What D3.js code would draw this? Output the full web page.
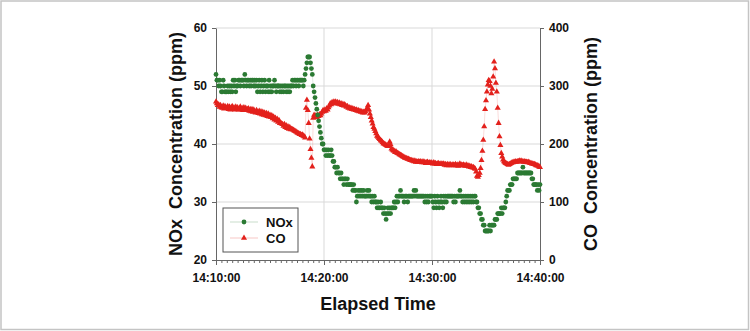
<!DOCTYPE html>
<html>
<head>
<meta charset="utf-8">
<script src="https://cdn.jsdelivr.net/npm/d3@7"></script>
<style>
  body { margin: 0; background: #fff; }
  svg text { font-family: Arial, "Liberation Sans", sans-serif; font-weight: bold; fill: #111; }
</style>
</head>
<body>
<div class="visualization"></div>
<script>
/*
NOx and CO readings, one sample every 5 seconds from 14:10:00
*/
var startTime = new Date(2000, 0, 1, 14, 10, 0);
var endTime = new Date(2000, 0, 1, 14, 40, 0);
var sampleSeconds = 5;

var seriesNames = ["NOx", "CO"];
var noxTicks = [20, 30, 40, 50, 60];
var coTicks = [0, 100, 200, 300, 400];

// NOx (ppm), one row per minute
var noxValues = [
  52,51,51,50,51,50,49,49,51,50,49,49,
  49,50,49,50,49,50,49,51,50,51,49,50,
  50,51,51,50,51,51,51,50,52,51,50,51,
  51,50,51,50,51,51,50,51,50,51,49,50,
  51,49,50,51,49,50,51,49,50,50,49,51,
  49,50,49,50,50,51,50,49,50,50,50,49,
  50,49,50,49,50,50,49,50,49,50,49,50,
  50,51,50,51,51,50,51,51,50,51,51,51,
  51,50,51,52,53,54,55,55,55,54,53,52,
  50,49,48,47,46,45,44,43,42,41,40,40,
  39,39,38,39,38,39,38,38,39,38,37,37,
  36,36,35,36,35,35,34,35,34,34,33,34,
  34,33,34,33,33,33,33,33,32,33,32,32,
  30,31,32,31,32,31,32,31,32,31,31,31,
  32,31,32,31,31,30,31,30,31,30,30,29,
  30,29,29,30,29,29,28,29,28,27,28,29,
  28,29,28,29,29,29,30,29,30,31,30,31,
  31,32,31,31,31,30,31,31,31,30,31,31,
  31,31,31,31,32,31,32,31,31,31,31,31,
  31,31,31,31,30,31,30,31,30,31,31,31,
  31,30,29,31,30,29,31,30,29,30,31,30,
  29,31,30,31,30,31,31,31,31,31,31,31,
  30,31,30,31,31,31,31,32,31,31,30,31,
  30,31,30,31,30,31,30,31,30,31,30,31,
  31,30,30,29,29,28,28,27,27,26,26,25,
  25,25,25,25,26,25,26,26,26,26,27,27,
  27,28,28,28,28,29,28,29,29,29,30,31,
  32,32,32,33,33,33,34,34,34,34,34,35,
  35,35,35,35,35,36,35,35,35,35,35,35,
  35,35,35,34,34,33,33,33,33,32,33,32,
  33
];

// CO (ppm), one row per minute
var coValues = [
  273,270,267,268,264,267,263,262,266,261,265,262,
  262,265,260,264,259,263,265,260,263,259,264,260,
  263,259,261,264,259,262,258,263,259,262,258,260,
  261,257,260,256,260,255,259,256,254,258,255,253,
  257,252,256,251,255,250,254,249,253,248,252,247,
  250,246,249,244,247,242,245,240,243,238,241,236,
  236,235,234,231,234,229,232,227,230,226,229,225,
  226,225,224,223,222,221,220,219,218,217,217,215,
  216,214,213,211,262,276,258,236,209,191,176,161,
  245,250,247,249,246,250,248,251,249,252,255,258,
  256,259,257,261,259,263,266,270,268,272,270,273,
  271,273,270,272,269,271,268,270,267,269,266,268,
  266,264,265,262,263,261,262,260,261,259,260,258,
  259,257,258,256,257,255,256,254,255,254,256,259,
  262,267,259,252,246,240,235,229,226,222,218,214,
  212,210,208,206,205,203,201,200,199,198,197,196,
  197,204,199,192,190,189,188,186,187,185,184,183,
  182,181,180,179,178,177,176,176,175,174,174,173,
  172,172,171,171,170,171,169,170,169,170,169,170,
  169,168,170,168,169,167,168,169,167,168,167,168,
  167,166,168,166,167,165,166,167,165,166,165,166,
  165,166,164,165,163,165,164,163,165,164,163,164,
  164,163,165,163,164,162,164,166,163,164,163,164,
  163,162,164,162,163,161,162,160,161,159,160,158,
  157,152,145,143,146,150,158,172,188,207,230,260,
  275,290,302,310,308,300,287,295,316,342,330,305,
  290,262,236,213,198,184,178,173,170,168,167,166,
  165,164,165,166,167,168,168,169,169,170,169,170,
  170,171,170,171,170,170,169,170,169,169,168,169,
  168,167,167,166,166,165,165,164,163,163,162,161,
  160
];

var width = 750;
var height = 331;
var plot = {left: 216, right: 540, top: 28, bottom: 260};
var noxColor = "#2b7a33";
var coColor = "#e3211c";

function drawViz(){
    var svg = d3.select(".visualization").append("svg")
        .attr("width", width)
        .attr("height", height);

    //outer frame
    svg.append("rect")
        .attr("x", 1).attr("y", 1)
        .attr("width", width - 2.5).attr("height", height - 2.5)
        .attr("fill", "#fff")
        .attr("stroke", "#c4c4c4")
        .attr("stroke-width", 1.5);

    var data = noxValues.map(function(v, i){
        return {
            time: new Date(startTime.getTime() + i * sampleSeconds * 1000),
            nox: v,
            co: coValues[i]
        };
    });

    var xScale = d3.scaleTime().domain([startTime, endTime]).range([plot.left, plot.right]);
    var yLeft = d3.scaleLinear().domain([20, 60]).range([plot.bottom, plot.top]);
    var yRight = d3.scaleLinear().domain([0, 400]).range([plot.bottom, plot.top]);

    // grid lines
    var grid = svg.append("g").attr("stroke", "#d9d9d9").attr("stroke-width", 1);
    noxTicks.slice(1).forEach(function(t){
        grid.append("line")
            .attr("x1", plot.left).attr("x2", plot.right)
            .attr("y1", yLeft(t)).attr("y2", yLeft(t));
    });
    xScale.ticks(d3.timeMinute.every(10)).forEach(function(t, i, arr){
        if(i == 0 || i == arr.length - 1) return;
        grid.append("line")
            .attr("x1", xScale(t)).attr("x2", xScale(t))
            .attr("y1", plot.top).attr("y2", plot.bottom);
    });

    // minor ticks every 30 seconds
    var minorAxis = svg.append("g")
        .attr("transform", "translate(0," + plot.bottom + ")")
        .call(d3.axisBottom(xScale).ticks(d3.timeSecond.every(30)).tickSize(3).tickFormat(""));
    minorAxis.select(".domain").remove();
    minorAxis.selectAll("line").attr("stroke", "#666");

    // axes
    var xAxis = svg.append("g")
        .attr("transform", "translate(0," + plot.bottom + ")")
        .call(d3.axisBottom(xScale)
            .ticks(d3.timeMinute.every(10))
            .tickFormat(d3.timeFormat("%H:%M:%S"))
            .tickSizeInner(5).tickSizeOuter(0).tickPadding(8));
    var leftAxis = svg.append("g")
        .attr("transform", "translate(" + plot.left + ",0)")
        .call(d3.axisLeft(yLeft).tickValues(noxTicks).tickSizeInner(4).tickSizeOuter(0).tickPadding(5));
    var rightAxis = svg.append("g")
        .attr("transform", "translate(" + plot.right + ",0)")
        .call(d3.axisRight(yRight).tickValues(coTicks).tickSizeInner(4).tickSizeOuter(0).tickPadding(5));
    [xAxis, leftAxis, rightAxis].forEach(function(a){
        a.selectAll(".domain, line").attr("stroke", "#666");
        a.selectAll("text")
            .attr("fill", "#111")
            .style("font-size", "12px")
            .style("font-family", "Arial, 'Liberation Sans', sans-serif")
            .style("font-weight", "bold");
    });

    // faint connecting lines
    var noxLine = d3.line().x(function(d){return xScale(d.time);}).y(function(d){return yLeft(d.nox);});
    var coLine = d3.line().x(function(d){return xScale(d.time);}).y(function(d){return yRight(d.co);});
    svg.append("path").datum(data).attr("d", coLine)
        .attr("fill", "none").attr("stroke", coColor).attr("stroke-opacity", 0.2).attr("stroke-width", 0.8);
    svg.append("path").datum(data).attr("d", noxLine)
        .attr("fill", "none").attr("stroke", noxColor).attr("stroke-opacity", 0.2).attr("stroke-width", 0.8);

    // CO triangles
    var tri = d3.symbol().type(d3.symbolTriangle).size(16);
    svg.append("g").selectAll("path")
        .data(data)
        .enter().append("path")
        .attr("d", tri)
        .attr("transform", function(d){return "translate(" + xScale(d.time) + "," + yRight(d.co) + ")";})
        .attr("fill", coColor);

    // NOx dots
    svg.append("g").selectAll("circle")
        .data(data)
        .enter().append("circle")
        .attr("cx", function(d){return xScale(d.time);})
        .attr("cy", function(d){return yLeft(d.nox);})
        .attr("r", 2.4)
        .attr("fill", noxColor);

    // axis titles
    svg.append("text")
        .attr("transform", "translate(182," + (plot.top + plot.bottom) / 2 + ") rotate(-90)")
        .attr("text-anchor", "middle")
        .style("font-size", "18px")
        .text("NOx\u00a0\u00a0Concentration (ppm)");
    svg.append("text")
        .attr("transform", "translate(597," + (plot.top + plot.bottom) / 2 + ") rotate(-90)")
        .attr("text-anchor", "middle")
        .style("font-size", "18px")
        .text("CO\u00a0\u00a0Concentration (ppm)");
    svg.append("text")
        .attr("x", (plot.left + plot.right) / 2)
        .attr("y", 310)
        .attr("text-anchor", "middle")
        .style("font-size", "18px")
        .text("Elapsed Time");

    // legend
    var legend = svg.append("g").attr("transform", "translate(223,208)");
    legend.append("rect")
        .attr("width", 75).attr("height", 44)
        .attr("fill", "#fff").attr("stroke", "#555").attr("stroke-width", 1);
    var colors = [noxColor, coColor];
    seriesNames.forEach(function(name, i){
        var y = 14 + i * 16;
        legend.append("line")
            .attr("x1", 7).attr("x2", 35).attr("y1", y).attr("y2", y)
            .attr("stroke", colors[i]).attr("stroke-opacity", 0.25).attr("stroke-width", 1);
        if(i == 0){
            legend.append("circle").attr("cx", 21).attr("cy", y).attr("r", 2.4).attr("fill", colors[i]);
        } else {
            legend.append("path").attr("d", tri)
                .attr("transform", "translate(21," + y + ")").attr("fill", colors[i]);
        }
        legend.append("text")
            .attr("x", 43).attr("y", y + 5)
            .style("font-size", "13px")
            .text(name);
    });
}

drawViz();
</script>
</body>
</html>
